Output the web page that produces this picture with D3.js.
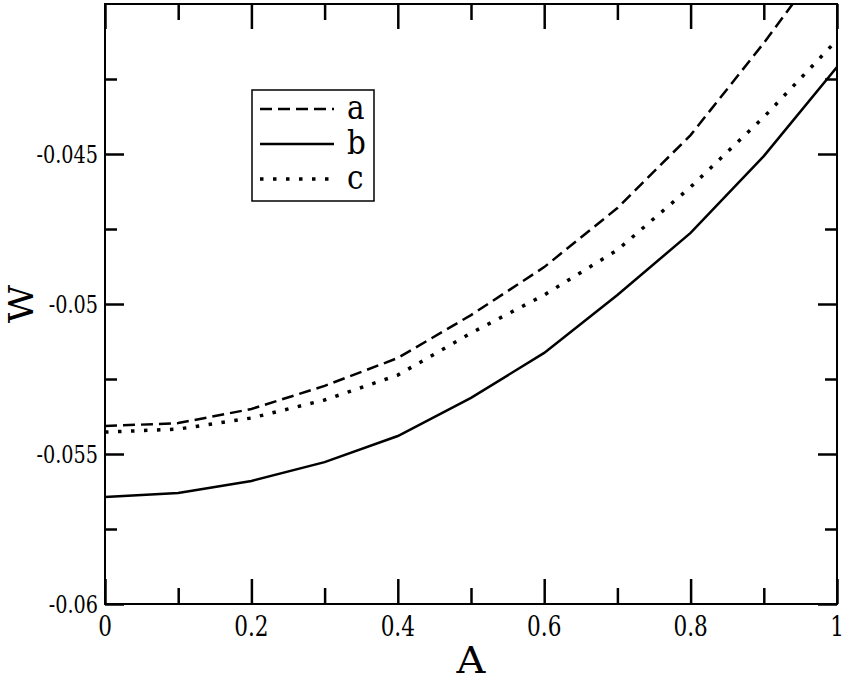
<!DOCTYPE html>
<html><head><meta charset="utf-8">
<script src="https://cdn.jsdelivr.net/npm/d3@7"></script>
<style>body{margin:0;background:#fff}svg{display:block}text{font-family:"DejaVu Serif",serif;fill:#000}</style>
</head><body><svg id="c" width="845" height="681"></svg>
<script>
const A = [0, 0.1, 0.2, 0.3, 0.4, 0.5, 0.6, 0.7, 0.8, 0.9, 1.0];
const seriesA = [-0.05407, -0.05397, -0.0535, -0.05273, -0.0518, -0.05037, -0.04877, -0.0468, -0.04437, -0.0413, -0.0380];
const seriesB = [-0.05643, -0.0563, -0.0559, -0.05527, -0.0544, -0.05313, -0.05163, -0.0497, -0.04763, -0.04507, -0.0421];
const seriesC = [-0.05427, -0.05417, -0.0538, -0.0532, -0.05237, -0.05097, -0.0497, -0.0482, -0.0461, -0.04377, -0.0412];
const xTicks = [0, 0.2, 0.4, 0.6, 0.8, 1];
const xTickLabels = ["0", "0.2", "0.4", "0.6", "0.8", "1"];
const xMinor = [0.1, 0.3, 0.5, 0.7, 0.9];
const yTicks = [-0.06, -0.055, -0.05, -0.045];
const yTickLabels = ["-0.06", "-0.055", "-0.05", "-0.045"];
const yMinor = [-0.0575, -0.0525, -0.0475, -0.0425];
const names = ["a", "b", "c"];

const L = 105, R = 837, T = 4, B = 604;
const svg = d3.select("#c");
const x = d3.scaleLinear().domain([0, 1]).range([L, R]);
const y = d3.scaleLinear().domain([-0.06, -0.04]).range([B, T]);

svg.append("clipPath").attr("id", "clip").append("rect")
  .attr("x", L).attr("y", T).attr("width", R - L).attr("height", B - T);

const series = [
  {name: names[0], vals: seriesA, dash: "12,6", w: 2.5},
  {name: names[1], vals: seriesB, dash: null, w: 2.5},
  {name: names[2], vals: seriesC, dash: "3.5,9.5", w: 3.5}
];
const line = d3.line().x((d, i) => x(A[i])).y(d => y(d));
const g = svg.append("g").attr("clip-path", "url(#clip)");
series.forEach(s => {
  g.append("path").datum(s.vals).attr("d", line)
    .attr("fill", "none").attr("stroke", "#000").attr("stroke-width", s.w)
    .attr("stroke-dasharray", s.dash);
});

svg.append("rect").attr("x", L).attr("y", T).attr("width", R - L).attr("height", B - T)
  .attr("fill", "none").attr("stroke", "#000").attr("stroke-width", 2);

const tick = (sel) => sel.selectAll("line").attr("stroke", "#000").attr("stroke-width", 2.5);
function noDomain(sel){ sel.select(".domain").remove(); sel.selectAll("text").remove(); }
svg.append("g").attr("transform", `translate(0,${B})`).call(d3.axisTop(x).tickValues(xTicks).tickSize(25)).call(noDomain).call(tick);
svg.append("g").attr("transform", `translate(0,${B})`).call(d3.axisTop(x).tickValues(xMinor).tickSize(16)).call(noDomain).call(tick);
svg.append("g").attr("transform", `translate(0,${T})`).call(d3.axisBottom(x).tickValues(xTicks).tickSize(25)).call(noDomain).call(tick);
svg.append("g").attr("transform", `translate(0,${T})`).call(d3.axisBottom(x).tickValues(xMinor).tickSize(16)).call(noDomain).call(tick);
svg.append("g").attr("transform", `translate(${L},0)`).call(d3.axisRight(y).tickValues(yTicks).tickSize(19)).call(noDomain).call(tick);
svg.append("g").attr("transform", `translate(${L},0)`).call(d3.axisRight(y).tickValues(yMinor).tickSize(12)).call(noDomain).call(tick);
svg.append("g").attr("transform", `translate(${R},0)`).call(d3.axisLeft(y).tickValues(yTicks).tickSize(19)).call(noDomain).call(tick);
svg.append("g").attr("transform", `translate(${R},0)`).call(d3.axisLeft(y).tickValues(yMinor).tickSize(12)).call(noDomain).call(tick);

svg.append("g").selectAll("text").data(xTicks).join("text")
  .attr("transform", d => `translate(${x(d)},636) scale(0.8,1)`).attr("text-anchor", "middle")
  .style("font-size", "27px").text((d, i) => xTickLabels[i]);
svg.append("g").selectAll("text").data(yTicks).join("text")
  .attr("transform", d => `translate(98,${y(d) + 9}) scale(0.77,1)`).attr("text-anchor", "end")
  .style("font-size", "25px").text((d, i) => yTickLabels[i]);

svg.append("text").attr("transform", `translate(${(L + R) / 2},673) scale(1.05,1)`).attr("text-anchor", "middle")
  .style("font-size", "38px").text("A");
svg.append("text").attr("transform", `translate(33,${(T + B) / 2}) rotate(-90) scale(1.1,1)`)
  .attr("text-anchor", "middle").style("font-size", "34px").text("W");

const lg = svg.append("g");
lg.append("rect").attr("x", 252).attr("y", 90).attr("width", 122).attr("height", 111)
  .attr("fill", "#fff").attr("stroke", "#000").attr("stroke-width", 1.5);
series.forEach((s, i) => {
  const yy = 109 + i * 35;
  lg.append("line").attr("x1", 260).attr("x2", 334).attr("y1", yy).attr("y2", yy)
    .attr("stroke", "#000").attr("stroke-width", s.w).attr("stroke-dasharray", s.dash);
  lg.append("text").attr("transform", `translate(347,${yy + 10}) scale(0.95,1.08)`).style("font-size", "31px").text(s.name);
});
</script></body></html>
